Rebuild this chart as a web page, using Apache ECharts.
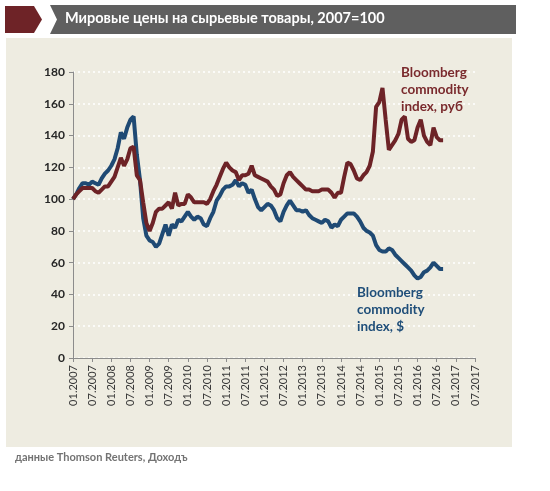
<!DOCTYPE html>
<html><head><meta charset="utf-8">
<script src="https://cdn.jsdelivr.net/npm/echarts@6/dist/echarts.min.js"></script>
<style>html,body{margin:0;padding:0;background:#fff}#c{width:550px;height:491px}</style>
</head><body><div id="c"></div>
<script>
// Months from 01.2007 to 07.2017
const categories = [];
for (let y = 2007; y <= 2017; y++) {
  for (let m = 1; m <= 12; m++) {
    if (y === 2017 && m > 7) break;
    categories.push((m < 10 ? '0' + m : '' + m) + '.' + y);
  }
}
const yTicks = [0, 20, 40, 60, 80, 100, 120, 140, 160, 180];
const titleText = 'Мировые цены на сырьевые товары, 2007=100';
const sourceText = 'данные Thomson Reuters, Доходъ';
const rubLabel = ['Bloomberg', 'commodity', 'index, руб'];
const usdLabel = ['Bloomberg', 'commodity', 'index, $'];

const usdValues = [100,103,107,110,110,109,111,110,109,113,116,118,121,125,132,142,138,145,150,152,128,112,88,77,74,73,70,72,78,84,77,84,82,87,86,89,92,89,87,89,88,84,83,88,92,99,102,106,108,108,109,112,108,110,109,104,106,100,95,93,95,97,96,93,88,86,92,96,99,96,93,93,92,93,90,88,87,86,85,87,86,82,84,83,87,89,91,91,91,89,86,82,80,79,77,71,68,67,67,69,68,65,63,61,59,57,55,52,50,51,54,55,57,60,58,56,56];
const rubValues = [100,103,105,107,107,107,107,105,104,106,108,108,111,114,120,126,121,125,132,133,115,112,98,85,80,85,92,94,94,96,98,94,104,96,97,97,103,101,98,98,98,98,97,100,105,109,114,119,123,120,118,117,112,115,115,116,121,115,114,113,112,111,108,106,102,103,110,115,117,114,112,110,108,106,106,105,105,105,106,106,106,104,101,104,104,114,123,122,118,113,112,115,117,121,130,158,161,170,150,131,134,137,141,150,152,138,136,137,145,150,140,136,134,145,139,137,137];

const RED = '#6d2327';
const BLUE = '#1f4a74';
const chart = echarts.init(document.getElementById('c'));
chart.setOption({
  animation: false,
  backgroundColor: '#ffffff',
  grid: { left: 73, right: 75, top: 72, bottom: 133 },
  xAxis: {
    type: 'category',
    data: categories,
    boundaryGap: false,
    axisLine: { lineStyle: { color: '#8c8c8c', width: 1 } },
    axisTick: { show: true, interval: 5, length: 4, lineStyle: { color: '#8c8c8c' } },
    axisLabel: { interval: 5, rotate: 90, margin: 7, color: '#3a3a3a', fontSize: 11, fontFamily: 'Lato' },
    splitLine: { show: false }
  },
  yAxis: {
    type: 'value',
    min: yTicks[0], max: yTicks[yTicks.length - 1], interval: 20,
    axisLine: { show: true, lineStyle: { color: '#8c8c8c', width: 1 } },
    axisTick: { show: true, length: 4, lineStyle: { color: '#8c8c8c' } },
    axisLabel: { color: '#262626', fontSize: 12, fontWeight: 'bold', fontFamily: 'Lato', margin: 8 },
    splitLine: { lineStyle: { color: '#ffffff', type: [2, 3], width: 1.5 } }
  },
  series: [
    { type: 'line', name: 'usd', data: usdValues, showSymbol: false, symbol: 'none',
      lineStyle: { color: BLUE, width: 4 }, z: 3 },
    { type: 'line', name: 'rub', data: rubValues, showSymbol: false, symbol: 'none',
      lineStyle: { color: RED, width: 4 }, z: 4 }
  ],
  graphic: [
    { type: 'rect', z: -10, silent: true, shape: { x: 6, y: 38, width: 506, height: 409 }, style: { fill: '#eeece1' } },
    { type: 'polygon', z: 10, shape: { points: [[5,6],[34,6],[42,19.5],[34,33],[5,33]] }, style: { fill: '#6e2327' } },
    { type: 'polygon', z: 10, shape: { points: [[50,5],[516,5],[516,34],[50,34],[57,19.5]] }, style: { fill: '#5f5f5f' } },
    { type: 'text', z: 11, left: 65, top: 11, style: { text: titleText, fill: '#ffffff', font: 'bold 14.5px Lato' } },
    { type: 'text', z: 11, left: 401, top: 64, style: { text: rubLabel.join('\n'), fill: '#7a2a2d', font: 'bold 13.5px Lato', lineHeight: 17 } },
    { type: 'text', z: 11, left: 357, top: 284, style: { text: usdLabel.join('\n'), fill: '#1f4e79', font: 'bold 13.5px Lato', lineHeight: 17 } },
    { type: 'text', z: 11, left: 15, top: 452, style: { text: sourceText, fill: '#737373', font: 'bold 11px Lato' } }
  ]
});
</script></body></html>
